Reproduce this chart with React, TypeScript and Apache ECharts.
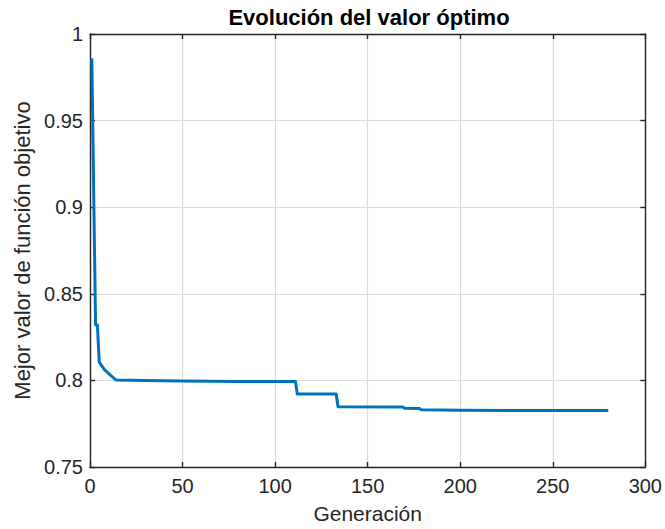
import React, { useEffect, useRef } from "react";
import * as echarts from "echarts";

const generations = [1, 3, 4, 5, 8, 11, 14, 30, 50, 80, 111, 112, 133, 134, 169, 170, 178, 179, 200, 280];
const bestValues = [0.986, 0.832, 0.832, 0.8105, 0.806, 0.803, 0.8003, 0.8, 0.7996, 0.7994, 0.7993, 0.7921, 0.7921, 0.7848, 0.7846, 0.7839, 0.7838, 0.783, 0.7827, 0.7826];
const xTicks = { min: 0, max: 300, interval: 50 };
const yTicks = { min: 0.75, max: 1, interval: 0.05 };

const titleText = "Evolución del valor óptimo";
const xName = "Generación";
const yName = "Mejor valor de función objetivo";

const FONT = "'Liberation Sans', Arial, Helvetica, sans-serif";
const AX = "#262626";
const GRID = "#dcdcdc";

export default function App() {
  const ref = useRef<HTMLDivElement>(null);
  useEffect(() => {
    if (!ref.current) return;
    const chart = echarts.init(ref.current, undefined, { renderer: "svg" });
    const data = generations.map((g, i) => [g, bestValues[i]]);
    const axisCommon = {
      axisLine: { show: true, onZero: false, lineStyle: { color: AX, width: 1.4 } },
      axisTick: { show: true, inside: true, length: 5, lineStyle: { color: AX, width: 1.4 } },
    };
    chart.setOption({
      animation: false,
      backgroundColor: "#ffffff",
      textStyle: { fontFamily: FONT },
      grid: { left: 90, top: 34, right: 17, bottom: 57, containLabel: false },
      graphic: [
        {
          type: "text",
          x: 369,
          y: 17,
          style: {
            text: titleText,
            font: `bold 22px ${FONT}`,
            fill: "#000000",
            textAlign: "center",
            textVerticalAlign: "middle",
          },
        },
      ],
      xAxis: [
        {
          type: "value",
          position: "bottom",
          min: xTicks.min,
          max: xTicks.max,
          interval: xTicks.interval,
          ...axisCommon,
          axisLabel: { color: AX, fontSize: 20, margin: 9, fontFamily: FONT },
          splitLine: { show: true, lineStyle: { color: GRID, width: 1.2 } },
          name: xName,
          nameLocation: "middle",
          nameGap: 36,
          nameTextStyle: { color: AX, fontSize: 21, fontFamily: FONT },
        },
        {
          type: "value",
          position: "top",
          min: xTicks.min,
          max: xTicks.max,
          interval: xTicks.interval,
          ...axisCommon,
          axisLabel: { show: false },
          splitLine: { show: false },
        },
      ],
      yAxis: [
        {
          type: "value",
          position: "left",
          min: yTicks.min,
          max: yTicks.max,
          interval: yTicks.interval,
          ...axisCommon,
          axisLabel: { color: AX, fontSize: 20, margin: 7, fontFamily: FONT },
          splitLine: { show: true, lineStyle: { color: GRID, width: 1.2 } },
          name: yName,
          nameLocation: "middle",
          nameGap: 54,
          nameTextStyle: { color: AX, fontSize: 22, fontFamily: FONT },
        },
        {
          type: "value",
          position: "right",
          min: yTicks.min,
          max: yTicks.max,
          interval: yTicks.interval,
          ...axisCommon,
          axisLabel: { show: false },
          splitLine: { show: false },
        },
      ],
      series: [
        {
          type: "line",
          xAxisIndex: 0,
          yAxisIndex: 0,
          data,
          showSymbol: false,
          symbol: "none",
          lineStyle: { color: "#0072BD", width: 3, join: "round" },
        },
      ],
    });
    return () => chart.dispose();
  }, []);
  return <div ref={ref} style={{ width: 665, height: 529, position: "absolute", left: 0, top: 0 }} />;
}
